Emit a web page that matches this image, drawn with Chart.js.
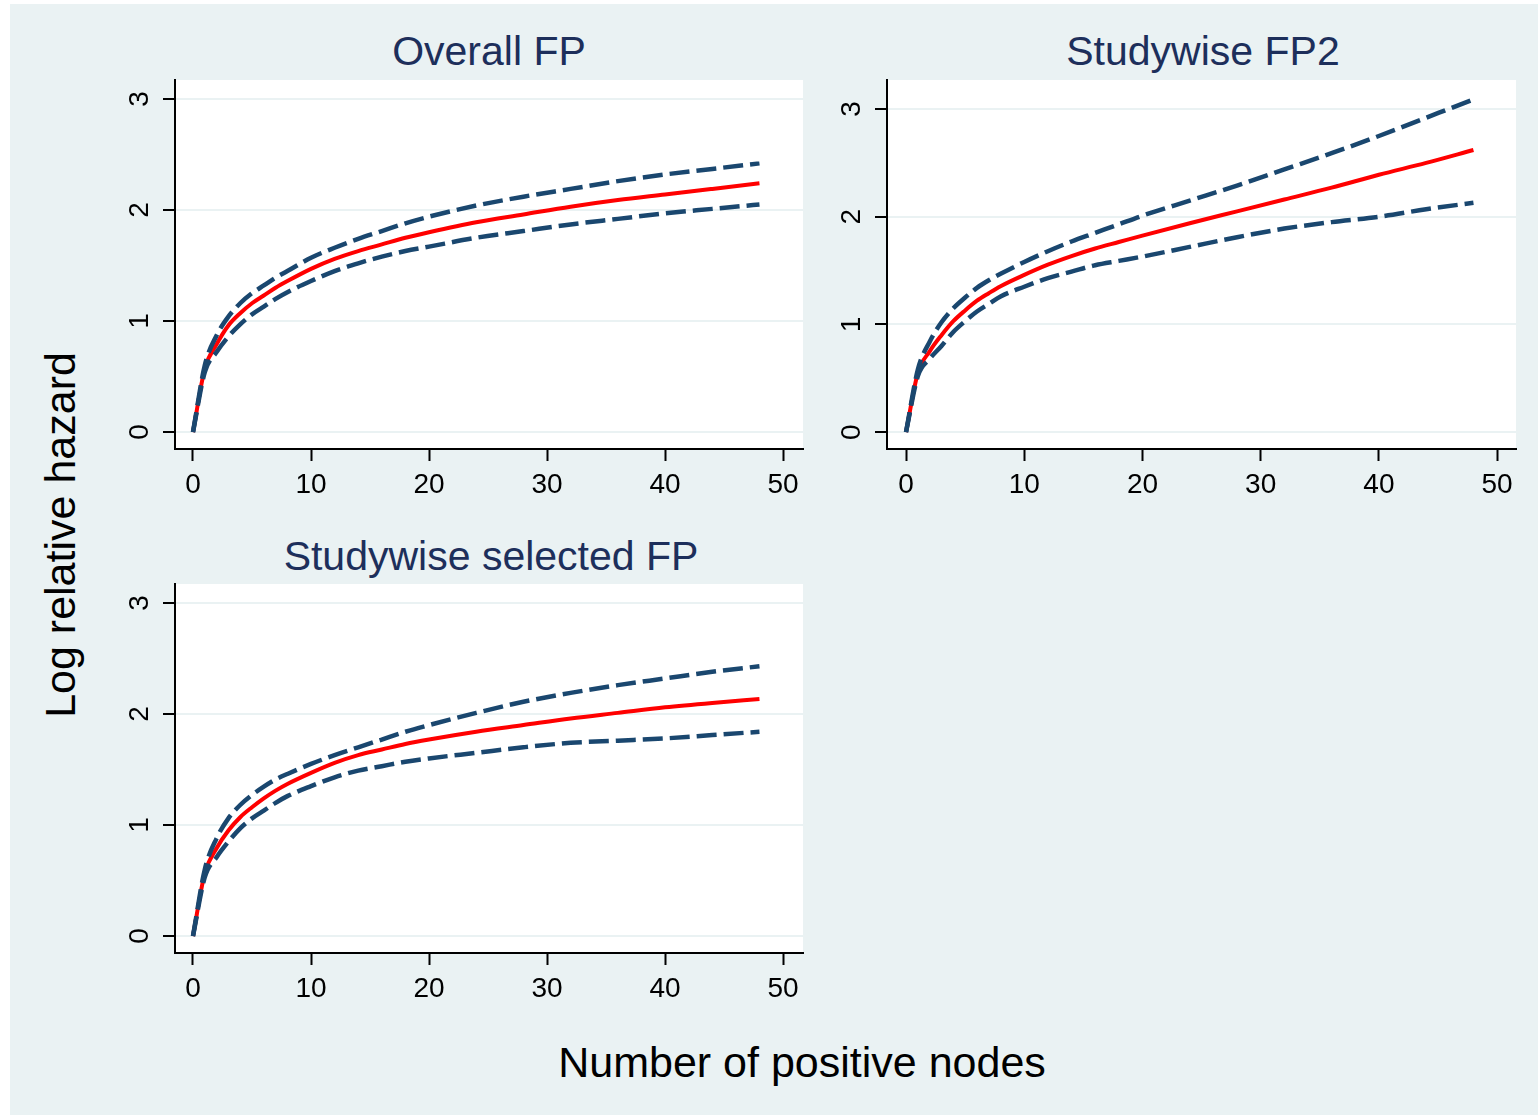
<!DOCTYPE html>
<html><head><meta charset="utf-8">
<script src="https://cdn.jsdelivr.net/npm/chart.js@4.4.1/dist/chart.umd.min.js"></script>
<style>
html,body{margin:0;padding:0;background:#ffffff;width:1538px;height:1115px;overflow:hidden;}
#bg{position:absolute;left:10px;top:4px;width:1528px;height:1111px;background:#EAF2F3;}
canvas{position:absolute;}
.t{position:absolute;font-family:'Liberation Sans',Arial,sans-serif;white-space:nowrap;line-height:1;transform:translate(-50%,-50%);}
.ttl{font-size:41px;color:#1d2f5b;}
.ax{font-size:43px;color:#000;}
</style></head><body>
<div id="bg"></div>
<div class="t ttl" style="left:489px;top:51px;">Overall FP</div>
<div class="t ttl" style="left:1203px;top:51px;">Studywise FP2</div>
<div class="t ttl" style="left:491px;top:556px;">Studywise selected FP</div>
<div class="t ax" style="left:60px;top:535px;transform:translate(-50%,-50%) rotate(-90deg);">Log relative hazard</div>
<div class="t ax" style="left:802px;top:1062px;">Number of positive nodes</div>
<canvas id="c1" width="720" height="470" style="left:100px;top:60px;width:720px;height:470px;"></canvas>
<canvas id="c2" width="720" height="470" style="left:812px;top:60px;width:720px;height:470px;"></canvas>
<canvas id="c3" width="720" height="470" style="left:100px;top:564px;width:720px;height:470px;"></canvas>
<script>
// ---- data ----
const nodes = [0,1,2,3,4,5,6,7,8,10,12,14,16,18,20,24,28,32,36,40,44,48];
const xTicks = [0,10,20,30,40,50];
const yTicks = [0,1,2,3];

// Overall FP
const overallEst = [0,0.57,0.79,0.96,1.07,1.16,1.23,1.30,1.36,1.47,1.56,1.63,1.69,1.75,1.80,1.89,1.96,2.03,2.09,2.14,2.19,2.24];
const overallHi  = [0,0.60,0.87,1.04,1.16,1.25,1.32,1.39,1.45,1.57,1.66,1.74,1.81,1.88,1.94,2.04,2.12,2.19,2.26,2.32,2.37,2.42];
const overallLo  = [0,0.54,0.72,0.86,0.97,1.06,1.13,1.20,1.26,1.36,1.45,1.52,1.58,1.63,1.67,1.75,1.81,1.87,1.92,1.97,2.01,2.05];

// Studywise FP2
const fp2Est = [0,0.55,0.75,0.90,1.03,1.13,1.22,1.29,1.355,1.46,1.555,1.635,1.705,1.765,1.825,1.94,2.05,2.16,2.27,2.39,2.50,2.62];
const fp2Hi  = [0,0.58,0.84,1.02,1.15,1.25,1.34,1.41,1.47,1.58,1.68,1.77,1.85,1.93,2.01,2.15,2.29,2.44,2.59,2.75,2.92,3.09];
const fp2Lo  = [0,0.52,0.68,0.80,0.93,1.03,1.12,1.19,1.26,1.35,1.43,1.49,1.55,1.59,1.63,1.72,1.81,1.89,1.95,2.00,2.07,2.13];

// Studywise selected FP
const selEst = [0,0.565,0.79,0.95,1.07,1.16,1.24,1.31,1.37,1.47,1.56,1.63,1.68,1.73,1.77,1.84,1.90,1.96,2.01,2.06,2.10,2.135];
const selHi  = [0,0.60,0.88,1.06,1.18,1.27,1.345,1.41,1.46,1.55,1.63,1.70,1.77,1.84,1.90,2.01,2.11,2.19,2.26,2.32,2.38,2.43];
const selLo  = [0,0.53,0.71,0.85,0.97,1.06,1.13,1.20,1.26,1.35,1.43,1.49,1.53,1.57,1.60,1.65,1.70,1.74,1.76,1.78,1.81,1.84];

// ---- drawing ----
const FONT = "'Liberation Sans', Arial, sans-serif";
const NAVY = '#1a476f';
const RED = '#ff0000';
const BG = '#EAF2F3';

const plotBg = {
  id:'plotBg',
  beforeDraw(chart){
    const a = chart.chartArea, c = chart.ctx;
    c.save(); c.fillStyle = '#ffffff';
    c.fillRect(a.left, a.top, a.right - a.left, a.bottom - a.top);
    c.restore();
  }
};

function pts(xs, ys){ return xs.map((x,i)=>({x:x, y:ys[i]})); }

function makeChart(id, est, lo, hi, xr, yr){
  const ciStyle = {borderColor:NAVY, borderWidth:4.5, borderDash:[20,7], pointRadius:0, fill:false, cubicInterpolationMode:'monotone', borderCapStyle:'butt'};
  new Chart(document.getElementById(id), {
    type:'line',
    plugins:[plotBg],
    data:{ datasets:[
      Object.assign({data:pts(nodes, hi)}, ciStyle),
      Object.assign({data:pts(nodes, lo)}, ciStyle),
      {data:pts(nodes, est), borderColor:RED, borderWidth:4, pointRadius:0, fill:false, cubicInterpolationMode:'monotone'}
    ]},
    options:{
      responsive:false, animation:false, devicePixelRatio:1,
      layout:{padding:{top:20,right:id==='c2'?16:17,bottom:0,left:0}},
      plugins:{legend:{display:false}, tooltip:{enabled:false}, title:{display:false}},
      scales:{
        x:{type:'linear', min:xr[0], max:xr[1],
           afterBuildTicks:(s)=>{ s.ticks = xTicks.map(v=>({value:v})); },
           afterFit:(s)=>{ s.height = 81; s.paddingLeft = 0; s.paddingRight = 0; },
           grid:{drawOnChartArea:false, drawTicks:true, tickLength:12, tickColor:'#000', tickWidth:2},
           border:{display:true, color:'#000', width:2},
           ticks:{font:{family:FONT, size:28}, color:'#000', padding:7, maxRotation:0, minRotation:0, autoSkip:false}
        },
        y:{type:'linear', min:yr[0], max:yr[1],
           afterBuildTicks:(s)=>{ s.ticks = yTicks.map(v=>({value:v})); },
           afterFit:(s)=>{ s.width = 75; s.paddingTop = 0; s.paddingBottom = 0; },
           grid:{color:BG, lineWidth:2, drawTicks:true, tickLength:12, tickColor:'#000', tickWidth:2},
           border:{display:true, color:'#000', width:2},
           ticks:{font:{family:FONT, size:28}, color:'#000', padding:15, minRotation:90, maxRotation:90, crossAlign:'center', autoSkip:false}
        }
      }
    }
  });
}

makeChart('c1', overallEst, overallLo, overallHi, [-1.525, 51.69], [-0.153, 3.171]);
makeChart('c2', fp2Est, fp2Lo, fp2Hi, [-1.61, 51.6], [-0.157, 3.27]);
makeChart('c3', selEst, selLo, selHi, [-1.525, 51.69], [-0.153, 3.171]);
</script>
</body></html>
